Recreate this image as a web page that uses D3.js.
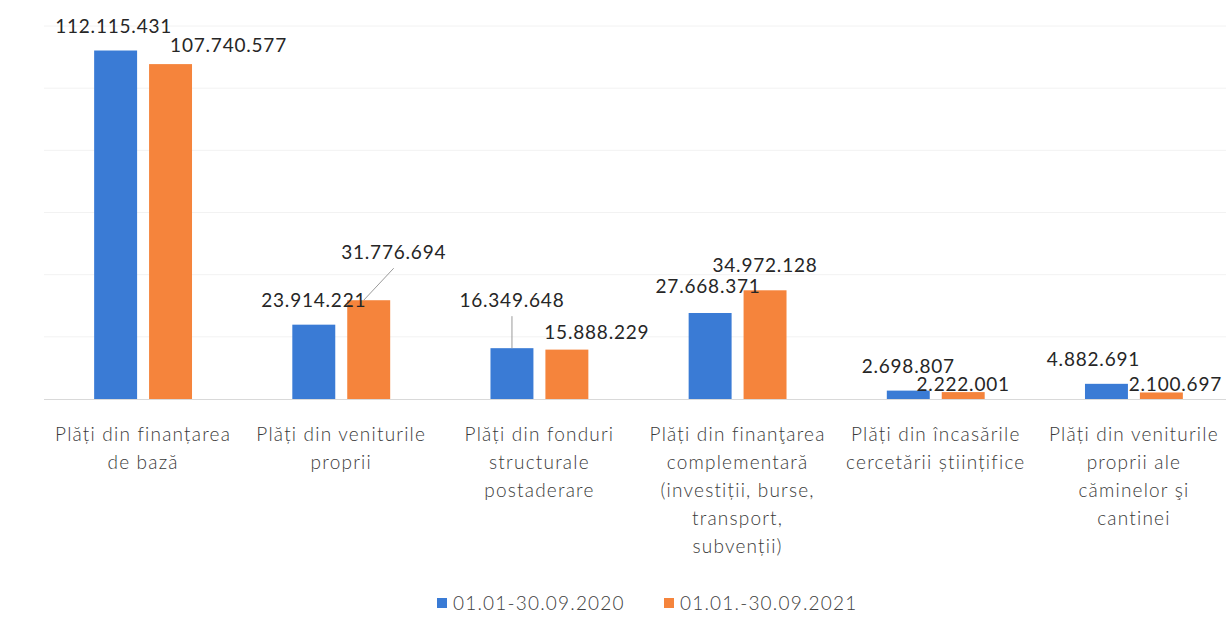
<!DOCTYPE html>
<html>
<head>
<meta charset="utf-8">
<script src="https://cdn.jsdelivr.net/npm/d3@7"></script>
<style>
    body { margin: 0; background: #fff; }
    svg { display: block; font-family: Lato, "Open Sans", sans-serif; }
</style>
</head>
<body>
<svg id="chart" width="1226" height="631"></svg>
<script>
// categories, one string per label, line breaks as in the original
const categories = [
    'Plăți din finanțarea\nde bază',
    'Plăți din veniturile\nproprii',
    'Plăți din fonduri\nstructurale\npostaderare',
    'Plăți din finanţarea\ncomplementară\n(investiții, burse,\ntransport,\nsubvenții)',
    'Plăți din încasările\ncercetării științifice',
    'Plăți din veniturile\nproprii ale\ncăminelor şi\ncantinei'
];
const seriesNames = ['01.01-30.09.2020', '01.01.-30.09.2021'];
const values2020 = [112115431, 23914221, 16349648, 27668371, 2698807, 4882691];
const values2021 = [107740577, 31776694, 15888229, 34972128, 2222001, 2100697];
const gridTicks = [0, 20e6, 40e6, 60e6, 80e6, 100e6, 120e6];

// manual label nudges [dx, dy], the original has hand-placed labels
const nudge2020 = [[-2, 0], [0, 0], [0, -23], [-2, -2], [0, 0], [-13, 0]];
const nudge2021 = [[58, 6], [25, -23], [30, 7], [0, 0], [0, 17], [14, 17]];
const leader2020 = [false, false, true, false, false, false];
const leader2021 = [false, true, false, false, false, false];

const colors = ['#3a7bd5', '#f5843c'];
const fmt = v => d3.format(',')(v).replace(/,/g, '.');

const svg = d3.select('#chart');
const margin = { left: 44, right: -7, top: 26, bottom: 232 };
const width = 1226, height = 631;

const x = d3.scaleBand()
    .domain(d3.range(categories.length))
    .range([margin.left, width - margin.right])
    .paddingInner(0)
    .paddingOuter(0);

const xs = d3.scaleBand()
    .domain([0, 1])
    .range([0, x.bandwidth()])
    .paddingInner(0.218)
    .paddingOuter(0.913);

const y = d3.scaleLinear()
    .domain([0, 120e6])
    .range([height - margin.bottom, margin.top]);

// gridlines
svg.append('g')
    .selectAll('line')
    .data(gridTicks.slice(1))
    .join('line')
    .attr('x1', margin.left)
    .attr('x2', width)
    .attr('y1', d => y(d))
    .attr('y2', d => y(d))
    .attr('stroke', '#f2f2f2')
    .attr('stroke-width', 1);

const series = [values2020, values2021];
const nudges = [nudge2020, nudge2021];
const leaders = [leader2020, leader2021];

series.forEach((vals, s) => {
    const g = svg.append('g');
    g.selectAll('rect')
        .data(vals)
        .join('rect')
        .attr('x', (d, i) => x(i) + xs(s))
        .attr('width', xs.bandwidth())
        .attr('y', d => y(d))
        .attr('height', d => y(0) - y(d))
        .attr('fill', colors[s]);
});

// axis line
svg.append('line')
    .attr('x1', margin.left)
    .attr('x2', width)
    .attr('y1', y(0) + 0.5)
    .attr('y2', y(0) + 0.5)
    .attr('stroke', '#d9d9d9');

// value labels
series.forEach((vals, s) => {
    vals.forEach((v, i) => {
        const cx = x(i) + xs(s) + xs.bandwidth() / 2;
        const top = y(v);
        const [dx, dy] = nudges[s][i];
        const lx = cx + dx;
        const ly = top - 18 + dy;
        if (leaders[s][i]) {
            svg.append('line')
                .attr('x1', cx - (dx ? 5 : 0))
                .attr('y1', top)
                .attr('x2', lx)
                .attr('y2', ly + 9)
                .attr('stroke', '#9a9a9a')
                .attr('stroke-width', 1);
        }
        svg.append('text')
            .attr('x', lx)
            .attr('y', ly)
            .attr('text-anchor', 'middle')
            .attr('font-size', 19)
            .attr('letter-spacing', 0.8)
            .attr('fill', '#262626')
            .text(fmt(v));
    });
});

// category labels
const cat = svg.append('g')
    .selectAll('text')
    .data(categories)
    .join('text')
    .attr('text-anchor', 'middle')
    .attr('font-size', 19)
    .attr('font-weight', 300)
    .attr('letter-spacing', 1.2)
    .attr('fill', '#3a3a3a')
    .attr('transform', (d, i) => `translate(${x(i) + x.bandwidth() / 2},${y(0) + 42})`);
cat.selectAll('tspan')
    .data(d => d.split('\n'))
    .join('tspan')
    .attr('x', 0)
    .attr('dy', (d, i) => i === 0 ? 0 : 28)
    .text(d => d);

// legend
const legend = svg.append('g').attr('transform', 'translate(437,603)');
const legendX = [0, 227];
seriesNames.forEach((name, s) => {
    const item = legend.append('g').attr('transform', `translate(${legendX[s]},0)`);
    item.append('rect')
        .attr('x', 0).attr('y', -5)
        .attr('width', 10).attr('height', 10)
        .attr('fill', colors[s]);
    item.append('text')
        .attr('x', 16)
        .attr('y', 0)
        .attr('dy', '0.35em')
        .attr('font-size', 19)
        .attr('font-weight', 300)
        .attr('letter-spacing', 1.2)
        .attr('fill', '#404040')
        .text(name);
});
</script>
</body>
</html>
